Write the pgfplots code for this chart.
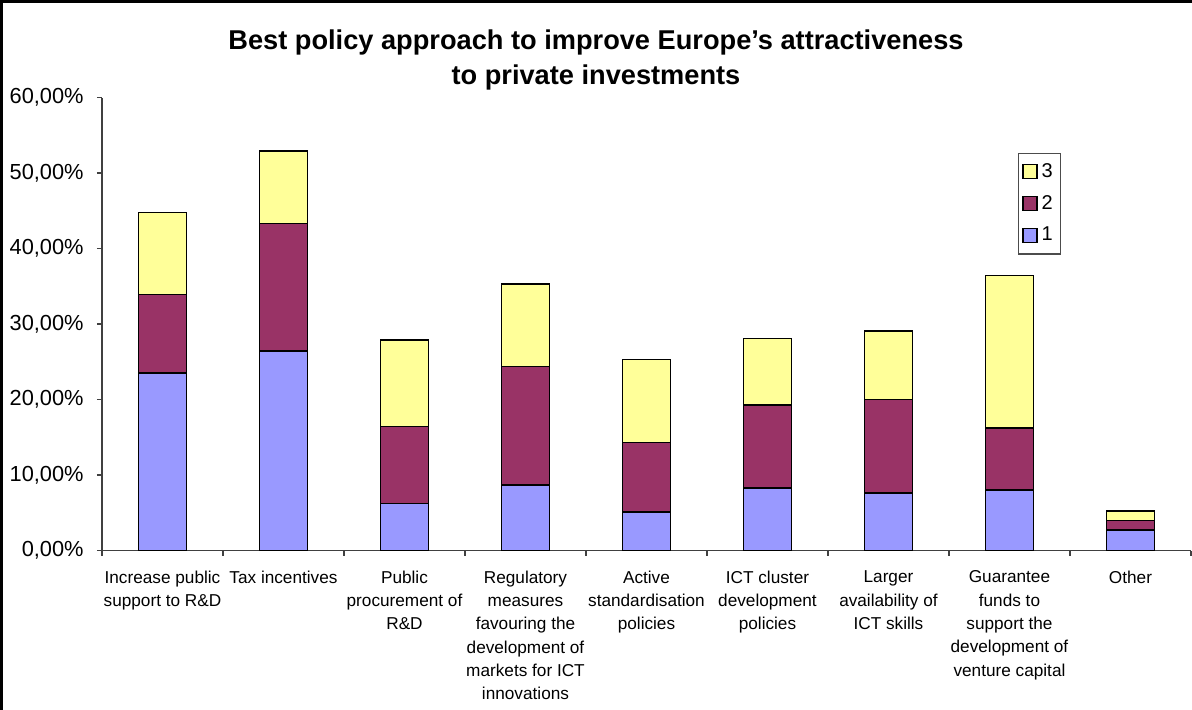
\documentclass[border=0pt]{standalone}
\usepackage{fontspec}
\setmainfont{Liberation Sans}
\usepackage{pgfplots}
\pgfplotsset{compat=1.18}
\definecolor{cA}{HTML}{9999FF}
\definecolor{cB}{HTML}{993366}
\definecolor{cC}{HTML}{FFFF99}
\begin{document}
\begin{tikzpicture}
\useasboundingbox (0bp,0bp) rectangle (596bp,355bp);
\draw[line width=1.5bp] (0.75bp,0bp) -- (0.75bp,354.25bp) -- (596bp,354.25bp);
\node[font=\fontsize{13.6bp}{17.5bp}\selectfont\bfseries, align=center] at (298bp,325bp) {Best policy approach to improve Europe's attractiveness\\to private investments};
\begin{axis}[
  at={(51bp,79.75bp)}, anchor=south west, scale only axis,
  width=544.5bp, height=226.5bp,
  ybar stacked, bar width=23.85bp,
  xmin=-0.5, xmax=8.5, ymin=0, ymax=60,
  axis x line*=bottom, axis y line*=left,
  axis line style={black!75, line width=0.7bp},
  ytick={0,10,...,60},
  yticklabel={\pgfmathprintnumber[fixed,fixed zerofill,precision=2,use comma]{\tick}\%},
  /pgf/number format/assume math mode=true,
  yticklabel style={font=\fontsize{10.9bp}{13bp}\selectfont, inner sep=0pt, xshift=-6.5bp},
  tick align=outside,
  major tick length=2.5bp,
  tick style={black!75, line width=0.6bp},
  xtick={0,...,8},
  major x tick style={draw=none},
  minor xtick={-0.5,0.5,...,8.5},
  minor tick length=2.5bp,
  xticklabels={{Increase public\\support to R\&D},{Tax incentives},{Public\\procurement of\\R\&D},{Regulatory\\measures\\favouring the\\development of\\markets for ICT\\innovations},{Active\\standardisation\\policies},{ICT cluster\\development\\policies},{Larger\\availability of\\ICT skills},{Guarantee\\funds to\\support the\\development of\\venture capital},{Other}},
  xticklabel style={font=\fontsize{8.6bp}{11.65bp}\selectfont, align=center, anchor=north, inner sep=0pt, yshift=-7.5bp},
  legend style={at={(0.841,0.878)}, anchor=north west, draw=black!70, line width=0.6bp,
    font=\fontsize{10bp}{11bp}\selectfont, row sep=3.5bp, inner xsep=2bp, inner ysep=3bp},
  legend cell align=left,
  reverse legend,
  legend image code/.code={\draw[#1,draw=black,line width=0.6bp] (0bp,-3.5bp) rectangle (7bp,3.5bp);},
  every axis plot/.append style={draw=black, line width=0.75bp},
]
\addplot[fill=cA] coordinates {(0,23.5) (1,26.4) (2,6.2) (3,8.7) (4,5.1) (5,8.3) (6,7.6) (7,8.0) (8,2.7)};
\addplot[fill=cB] coordinates {(0,10.4) (1,16.9) (2,10.2) (3,15.7) (4,9.2) (5,11.0) (6,12.4) (7,8.2) (8,1.3)};
\addplot[fill=cC] coordinates {(0,10.9) (1,9.6) (2,11.5) (3,10.9) (4,11.0) (5,8.8) (6,9.1) (7,20.2) (8,1.2)};
\legend{1,2,3}
\end{axis}
\end{tikzpicture}
\end{document}
